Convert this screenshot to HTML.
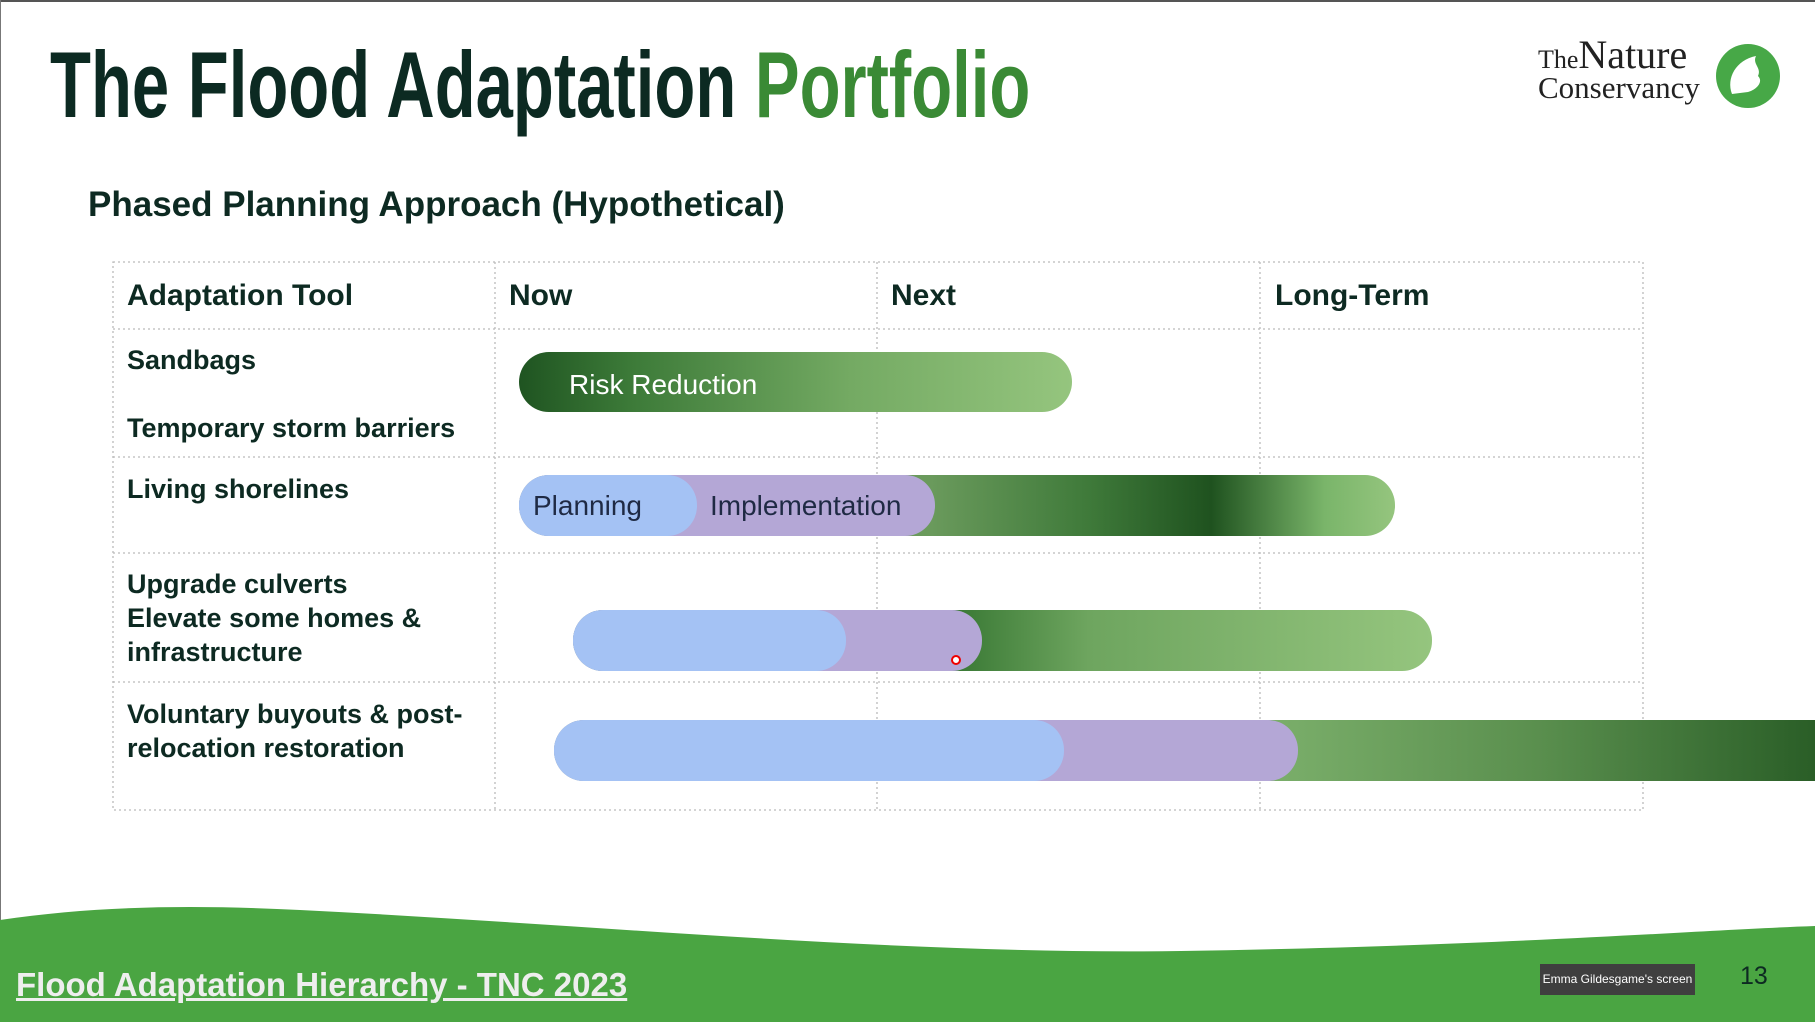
<!DOCTYPE html>
<html><head><meta charset="utf-8"><style>
body{margin:0;width:1815px;height:1022px;overflow:hidden;background:#fff;font-family:"Liberation Sans",sans-serif;position:relative}
.a{position:absolute}
.bar{position:absolute;border-radius:30px;overflow:hidden}
.t{font-weight:bold;color:#0d2a22;font-size:27px;position:absolute;line-height:34px}
</style></head><body>
<div class="a" style="left:0;top:0;width:1815px;height:2px;background:#555"></div>
<div class="a" style="left:0;top:0;width:1px;height:1022px;background:#777"></div>
<div class="a" style="left:50px;top:30px;font-weight:bold;font-size:94px;color:#0c2a22;white-space:nowrap;line-height:110px;transform:scaleX(0.713);transform-origin:left">The Flood Adaptation <span style="color:#3a8a35">Portfolio</span></div>
<div class="a" style="left:1538px;top:40px;font-family:'Liberation Serif',serif;color:#222;line-height:30px">
<div style="font-size:29px"><span style="font-size:26px">The</span><span style="font-size:40px">Nature</span></div>
<div style="font-size:31px;margin-top:-2px">Conservancy</div></div>
<svg class="a" style="left:1712px;top:42px" width="72" height="72"><circle cx="36" cy="34" r="32" fill="#47a847"/><path d="M20 52 C14 36 24 18 44 14 C40 22 50 26 46 34 C52 40 44 48 36 50 Z" fill="#fff"/></svg>
<div class="a" style="left:88px;top:185px;font-weight:bold;font-size:35px;color:#0d2a22">Phased Planning Approach (Hypothetical)</div>
<svg class="a" style="left:0;top:0" width="1815" height="1022">
<g stroke="#bbb" stroke-width="1.3" stroke-dasharray="2,3" fill="none">
<rect x="113" y="262" width="1530" height="548"/>
<line x1="495" y1="262" x2="495" y2="810"/><line x1="877" y1="262" x2="877" y2="810"/><line x1="1260" y1="262" x2="1260" y2="810"/>
<line x1="113" y1="329" x2="1643" y2="329"/><line x1="113" y1="457" x2="1643" y2="457"/><line x1="113" y1="553" x2="1643" y2="553"/><line x1="113" y1="682" x2="1643" y2="682"/>
</g>
<path d="M0 920 C100 905 200 905 300 910 C600 925 900 955 1181 951 C1500 946 1700 930 1815 926 L1815 1022 L0 1022 Z" fill="#4aa542"/>
</svg>
<div class="t" style="left:127px;top:279px;font-size:30px">Adaptation Tool</div>
<div class="t" style="left:509px;top:279px;font-size:30px">Now</div>
<div class="t" style="left:891px;top:279px;font-size:30px">Next</div>
<div class="t" style="left:1275px;top:279px;font-size:30px">Long-Term</div>
<div class="t" style="left:127px;top:343px">Sandbags</div>
<div class="t" style="left:127px;top:411px">Temporary storm barriers</div>
<div class="t" style="left:127px;top:472px">Living shorelines</div>
<div class="t" style="left:127px;top:567px">Upgrade culverts<br>Elevate some homes &amp;<br>infrastructure</div>
<div class="t" style="left:127px;top:697px">Voluntary buyouts &amp; post-<br>relocation restoration</div>
<div class="bar" style="left:519px;top:352px;width:553px;height:60px;background:linear-gradient(90deg,#1f5421,#3c7a38 20%,#74aa63 60%,#95c57e)"><span class="a" style="left:50px;top:17px;color:#fff;font-size:28px">Risk Reduction</span></div>
<div class="bar" style="left:519px;top:475px;width:876px;height:61px;background:linear-gradient(90deg,#6a9a5c 47%,#3f7a3a 65%,#1f521f 79%,#7ab56a 92%,#95c57e)"></div>
<div class="bar" style="left:519px;top:475px;width:416px;height:61px;background:#b4a7d6"><span class="a" style="left:191px;top:15px;color:#1f2a44;font-size:28px">Implementation</span></div>
<div class="bar" style="left:519px;top:475px;width:178px;height:61px;background:#a4c2f4"><span class="a" style="left:14px;top:15px;color:#1f2a44;font-size:28px">Planning</span></div>
<div class="bar" style="left:573px;top:610px;width:859px;height:61px;background:linear-gradient(90deg,#3b7a36 45%,#6ea55f 60%,#95c57e)"></div>
<div class="bar" style="left:573px;top:610px;width:409px;height:61px;background:#b4a7d6"></div>
<div class="bar" style="left:573px;top:610px;width:273px;height:61px;background:#a4c2f4"></div>
<div class="a" style="left:951px;top:655px;width:6px;height:6px;border-radius:50%;border:2px solid #e00;background:#fff"></div>
<div class="a" style="left:554px;top:720px;width:1261px;height:61px;border-radius:30px 0 0 30px;background:linear-gradient(90deg,#79ad69 58%,#5a8f4e 78%,#2a5e27)"></div>
<div class="bar" style="left:554px;top:720px;width:744px;height:61px;background:#b4a7d6"></div>
<div class="bar" style="left:554px;top:720px;width:510px;height:61px;background:#a4c2f4"></div>
<div class="a" style="left:16px;top:966px;font-weight:bold;font-size:33px;color:#eee;text-decoration:underline">Flood Adaptation Hierarchy - TNC 2023</div>
<div class="a" style="left:1540px;top:964px;width:155px;height:31px;background:#3f3f3f;color:#fff;font-size:12px;line-height:31px;text-align:center">Emma Gildesgame's screen</div>
<div class="a" style="left:1740px;top:962px;font-size:25px;color:#0d2a22">13</div>
</body></html>
